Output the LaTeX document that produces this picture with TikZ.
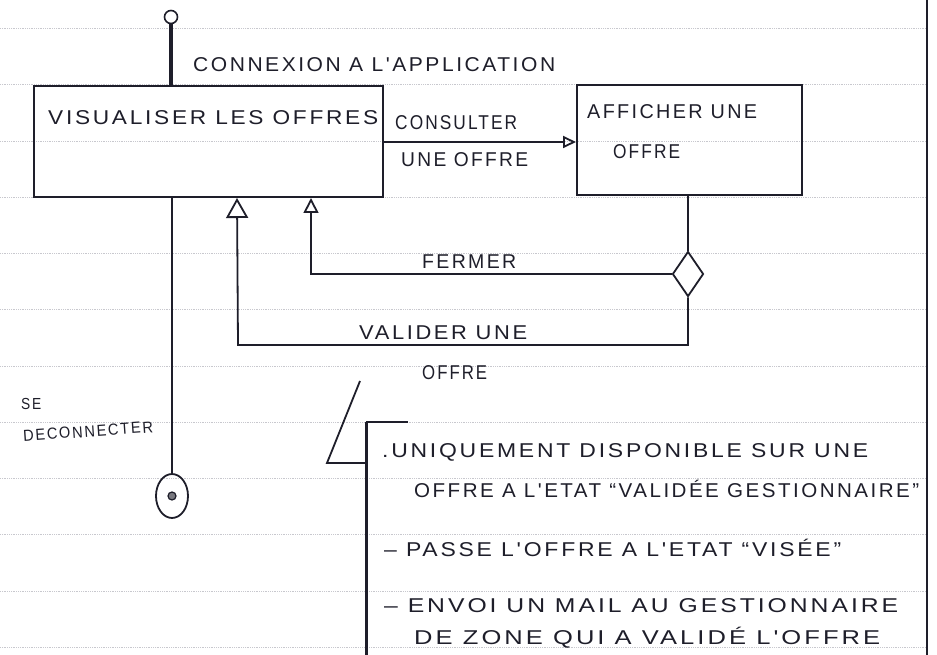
\documentclass[tikz,border=0pt]{standalone}
\usepackage{fontspec}
\usepackage{graphicx}
\usetikzlibrary{arrows.meta,shapes.geometric}
\newfontfamily\handfont[LetterSpace=12]{Liberation Sans}
\definecolor{ink}{RGB}{30,30,42}
\definecolor{paper}{RGB}{200,200,206}
\newsavebox\hwbox
\newcommand\hwfit[2]{\sbox\hwbox{#2}\scalebox{\fpeval{(#1)/(\the\wd\hwbox)}}[1]{\usebox\hwbox}}
\tikzset{
  hw/.style={font=\handfont\fontsize{20}{22}\selectfont, text=ink, inner sep=0pt, anchor=west},
  hwsmall/.style={font=\handfont\fontsize{16}{18}\selectfont, text=ink, inner sep=0pt, anchor=west},
  statebox/.style={draw=ink, line width=2pt, rectangle, inner sep=0pt},
  conn/.style={draw=ink, line width=1.8pt},
  ruling/.style={draw=paper, line width=0.8pt, densely dotted},
}
\begin{document}
\begin{tikzpicture}[x=1pt,y=-1pt]
\fill[white] (0,0) rectangle (937,655);
\useasboundingbox (0,0) rectangle (937,655);
% ruled paper
\foreach \yy in {28,84,141,197,253,309,366,422,478,534,591,647}
  \draw[ruling] (0,\yy) -- (927,\yy);
\draw[ink, line width=2.5pt] (927,0) -- (927,655);

% states
\node[statebox, minimum width=349, minimum height=111] (box1) at (208.5,141.5) {};
\node[statebox, minimum width=225, minimum height=110] (box2) at (689.5,140) {};
\node[hw] (t1) at (48,118) {\hwfit{330}{VISUALISER LES OFFRES}};
\node[hw] (t2a) at (587,112) {\hwfit{170}{AFFICHER UNE}};
\node[hw] (t2b) at (613,152) {\hwfit{67}{OFFRE}};

% start
\node[circle, draw=ink, line width=1.6pt, minimum size=13, inner sep=0pt] (start) at (171,17) {};
\draw[ink, line width=4pt] (start.south) -- (start.south |- box1.north);
\node[hw] (lconn) at (193,65) {\hwfit{362}{CONNEXION A L'APPLICATION}};

% consult transition
\coordinate (cy) at (0,142);
\draw[conn, -{Triangle[open,length=13,width=12]}] (box1.east |- cy) -- (box2.west |- cy);
\node[hw] (lcons1) at (395,123) {\hwfit{122}{CONSULTER}};
\node[hw] (lcons2) at (401,160) {\hwfit{127}{UNE OFFRE}};

% decision
\node[diamond, draw=ink, line width=1.8pt, minimum width=31, minimum height=45, inner sep=0pt] (dec) at (688,274) {};
\draw[conn] (dec.north) -- (dec.north |- box2.south);

\path (box1.south west) ++(204,0) coordinate (a1);
\path (box1.south west) ++(278,0) coordinate (a2);
\path (box1.south west) ++(139,0) coordinate (f0);
\coordinate (vb) at (238,345);

\draw[conn, -{Triangle[open,length=15,width=15]}] (dec.west) -| (a2);
\draw[conn, -{Triangle[open,length=20,width=22]}] (dec.south) |- (vb) -- (a1);
\node[hw] (lfer) at (422,262) {\hwfit{94}{FERMER}};
\node[hw] (lval1) at (359,333) {\hwfit{168}{VALIDER UNE}};
\node[hw] (lval2) at (422,373) {\hwfit{65}{OFFRE}};

% final state
\node[ellipse, draw=ink, line width=1.8pt, minimum width=32, minimum height=44, inner sep=0pt] (end) at (172,496) {};
\node[circle, draw=ink, fill=ink!60, line width=1.2pt, minimum size=8, inner sep=0pt] (enddot) at (end.center) {};
\draw[conn] (f0) -- (end.north);
\node[hwsmall] (lse1) at (21,404) {\hwfit{20}{SE}};
\node[hwsmall, rotate=4] (lse2) at (23,436) {\hwfit{130}{DECONNECTER}};

% note
\coordinate (n1) at (360,381);
\coordinate (n2) at (327,463);
\coordinate (n3) at (366,463);
\coordinate (n4) at (366,422);
\coordinate (n5) at (408,422);
\coordinate (n6) at (366,655);
\draw[conn] (n1) -- (n2) -- (n3);
\draw[ink, line width=3pt] (n4) -- (n6);
\draw[ink, line width=2.5pt] (n4) -- (n5);
\node[hw] (nl1) at (382,452) {\hwfit{486}{.UNIQUEMENT DISPONIBLE SUR UNE}};
\node[hw] (nl2) at (414,489) {\hwfit{505}{OFFRE A L'ETAT “VALIDÉE GESTIONNAIRE”}};
\node[hw] (nl3) at (384,548) {\hwfit{457}{– PASSE L'OFFRE A L'ETAT “VISÉE”}};
\node[hw] (nl4) at (384,606) {\hwfit{514}{– ENVOI UN MAIL AU GESTIONNAIRE}};
\node[hw] (nl5) at (414,638) {\hwfit{466}{DE ZONE QUI A VALIDÉ L'OFFRE}};
\end{tikzpicture}
\end{document}
